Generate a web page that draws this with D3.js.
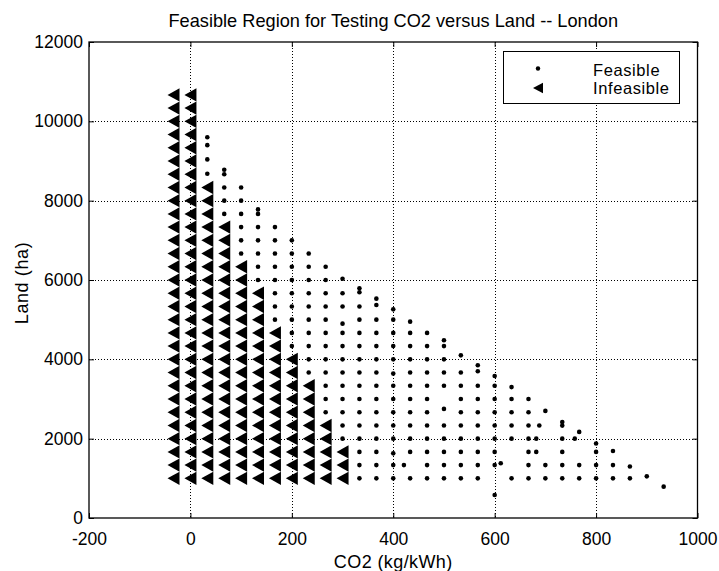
<!DOCTYPE html>
<html>
<head>
<meta charset="utf-8">
<script src="https://cdn.jsdelivr.net/npm/d3@7"></script>
<style>
  html, body { margin: 0; padding: 0; background: #fff; }
  svg { display: block; }
  text { font-family: "Liberation Sans", Arial, Helvetica, sans-serif; fill: #000; }
</style>
</head>
<body>
<svg id="chart" width="719" height="571"></svg>
<script>
// ---------- data ----------
const titleText = "Feasible Region for Testing CO2 versus Land -- London";
const xLabelText = "CO2 (kg/kWh)";
const yLabelText = "Land (ha)";
const xTicks = [-200, 0, 200, 400, 600, 800, 1000];
const yTicks = [0, 2000, 4000, 6000, 8000, 10000, 12000];
const legendLabels = ["Feasible", "Infeasible"];

// land levels tested (ha)
const landLevels = [1000, 1333, 1667, 2000, 2333, 2667, 3000, 3333, 3667, 4000,
  4333, 4667, 5000, 5333, 5667, 6000, 6333, 6667, 7000, 7333, 7667, 8000,
  8333, 8667, 9000, 9333, 9667, 10000, 10333, 10667];

// infeasible columns: CO2 value and highest infeasible land level
const infeasibleCO2 = [-33.3, 0, 33.3, 66.7, 100, 133.3, 166.7, 200, 233.3, 266.7, 300];
const infeasibleTop = [10667, 10667, 8333, 7333, 6333, 5667, 4667, 4000, 3333, 2333, 1667];

// feasible points by CO2 column
const feasibleCO2 = [33.3, 66.7, 100, 133.3, 166.7, 200, 233.3, 266.7, 300, 333.3,
  366.7, 400, 433.3, 466.7, 500, 533.3, 566.7, 600, 633.3, 666.7, 700, 733.3,
  766.7, 800, 833.3, 866.7, 900, 933.3];
const feasibleLand = [
  [9600, 9400, 9040, 8680],
  [8780, 8667, 8333, 8000, 7667],
  [8333, 8000, 7667, 7333, 7000, 6667],
  [7780, 7667, 7333, 7000, 6667, 6333, 6000],
  [7333, 7000, 6667, 6333, 6000, 5667, 5333, 5000],
  [7000, 6667, 6333, 6000, 5667, 5333, 5000, 4667, 4333],
  [6667, 6333, 6000, 5667, 5333, 5000, 4667, 4333, 4000, 3667],
  [6333, 6000, 5667, 5333, 5000, 4667, 4333, 4000, 3667, 3333, 3000, 2667],
  [6030, 5667, 5333, 4900, 4667, 4333, 4000, 3667, 3333, 3000, 2667, 2333, 2000],
  [5790, 5690, 5333, 5000, 4667, 4333, 4000, 3667, 3333, 3000, 2667, 2333, 2000, 1667, 1333, 1000],
  [5530, 5370, 5000, 4667, 4333, 4000, 3667, 3333, 3000, 2667, 2333, 2000, 1667, 1333, 1000],
  [5260, 5000, 4667, 4333, 4000, 3640, 3333, 3000, 2667, 2333, 2000, 1630, 1333, 1000],
  [4950, 4667, 4333, 4000, 3667, 3333, 3000, 2667, 2333, 2000, 1667, 1000],
  [4667, 4333, 4000, 3667, 3333, 3000, 2667, 2333, 2000, 1667, 1333, 1000],
  [4480, 4333, 4000, 3667, 3333, 2750, 2333, 2000, 1667, 1333, 1000],
  [4100, 3667, 3333, 3000, 2667, 2333, 2000, 1667, 1333, 1000],
  [3850, 3700, 3333, 3000, 2667, 2333, 2000, 1667, 1333, 1000],
  [3580, 3333, 3000, 2667, 2333, 2000, 1667, 1333, 580],
  [3300, 3000, 2667, 2333, 2000, 1000],
  [3000, 2667, 2333, 2000, 1667, 1333, 1000],
  [2700, 1333, 1000],
  [2420, 2330, 2000, 1667, 1333, 1000],
  [2170, 1333, 1000],
  [1880, 1667, 1333, 1000],
  [1690, 1333, 1000],
  [1300, 1000],
  [1050],
  [790]
];
// feasible points lying off the column grid
const extraCO2 = [421, 612, 688, 682, 682, 758];
const extraLand = [1333, 1380, 2333, 2000, 1667, 2000];

// ---------- drawing ----------
const svg = d3.select("#chart");
const x = d3.scaleLinear().domain([-200, 1000]).range([89, 697.5]);
const y = d3.scaleLinear().domain([0, 12000]).range([518, 42]);
const [x0, x1] = x.range();
const [y0, y1] = y.range();

// gridlines
const grid = svg.append("g").attr("stroke", "#000").attr("stroke-width", 1)
  .attr("stroke-dasharray", "1,2");
grid.selectAll("line.vx").data(xTicks.slice(1, -1)).join("line")
  .attr("x1", d => Math.round(x(d)) + 0.5).attr("x2", d => Math.round(x(d)) + 0.5)
  .attr("y1", y1).attr("y2", y0);
grid.selectAll("line.hy").data(yTicks.slice(1, -1)).join("line")
  .attr("y1", d => Math.round(y(d)) + 0.5).attr("y2", d => Math.round(y(d)) + 0.5)
  .attr("x1", x0).attr("x2", x1);

// infeasible triangles
const triPath = (w, h) => `M${-w/2},0L${w/2},${-h/2}L${w/2},${h/2}Z`;
const infeasiblePts = [];
infeasibleCO2.forEach((c, i) => {
  landLevels.filter(l => l <= infeasibleTop[i]).forEach(l => infeasiblePts.push([c, l]));
});
svg.append("g").selectAll("path").data(infeasiblePts).join("path")
  .attr("d", triPath(12, 13.4))
  .attr("transform", d => `translate(${x(d[0])},${y(d[1])})`)
  .attr("fill", "#000");

// feasible dots
const feasiblePts = [];
feasibleCO2.forEach((c, i) => feasibleLand[i].forEach(l => feasiblePts.push([c, l])));
extraCO2.forEach((c, i) => feasiblePts.push([c, extraLand[i]]));
svg.append("g").selectAll("circle").data(feasiblePts).join("circle")
  .attr("cx", d => x(d[0])).attr("cy", d => y(d[1])).attr("r", 2.3)
  .attr("fill", "#000");

// frame
svg.append("rect").attr("x", x0).attr("y", y1)
  .attr("width", x1 - x0).attr("height", y0 - y1)
  .attr("fill", "none").attr("stroke", "#000").attr("stroke-width", 1.3);

// axes (ticks inward)
const fs = 17.5;
const fmt = d => String(d);
const xAxisB = d3.axisBottom(x).tickValues(xTicks).tickSize(-5).tickPadding(15).tickFormat(fmt);
const xAxisT = d3.axisTop(x).tickValues(xTicks).tickSize(-5).tickFormat("");
const yAxisL = d3.axisLeft(y).tickValues(yTicks).tickSize(-5).tickPadding(6).tickFormat(fmt);
const yAxisR = d3.axisRight(y).tickValues(yTicks).tickSize(-5).tickFormat("");
function styleAxis(g) {
  g.select(".domain").remove();
  g.selectAll(".tick line").attr("stroke", "#000");
  g.selectAll("text").attr("font-size", fs).attr("fill", "#000")
    .attr("font-family", '"Liberation Sans", Arial, Helvetica, sans-serif');
}
svg.append("g").attr("transform", `translate(0,${y0})`).call(xAxisB).call(styleAxis);
svg.append("g").attr("transform", `translate(0,${y1})`).call(xAxisT).call(styleAxis);
svg.append("g").attr("transform", `translate(${x0},0)`).call(yAxisL).call(styleAxis);
svg.append("g").attr("transform", `translate(${x1},0)`).call(yAxisR).call(styleAxis);

// title and labels
svg.append("text").attr("x", (x0 + x1) / 2).attr("y", 27)
  .attr("text-anchor", "middle").attr("font-size", 18.2).text(titleText);
svg.append("text").attr("x", (x0 + x1) / 2).attr("y", 568)
  .attr("text-anchor", "middle").attr("font-size", 18).attr("letter-spacing", 0.4).text(xLabelText);
svg.append("text").attr("transform", `translate(28,283) rotate(-90)`)
  .attr("text-anchor", "middle").attr("font-size", 18).attr("letter-spacing", 0.6).text(yLabelText);

// legend
const lg = svg.append("g");
lg.append("rect").attr("x", 503.5).attr("y", 51.5).attr("width", 176).attr("height", 52)
  .attr("fill", "#fff").attr("stroke", "#000").attr("stroke-width", 1);
lg.append("circle").attr("cx", 538).attr("cy", 68.5).attr("r", 2.2).attr("fill", "#000");
lg.append("path").attr("d", triPath(10, 10.5)).attr("transform", "translate(538,88)").attr("fill", "#000");
lg.selectAll("text.lab").data(legendLabels).join("text")
  .attr("x", 593).attr("y", (d, i) => 75.5 + i * 18.5).attr("font-size", 16.5)
  .attr("letter-spacing", 0.6).text(d => d);
</script>
</body>
</html>
